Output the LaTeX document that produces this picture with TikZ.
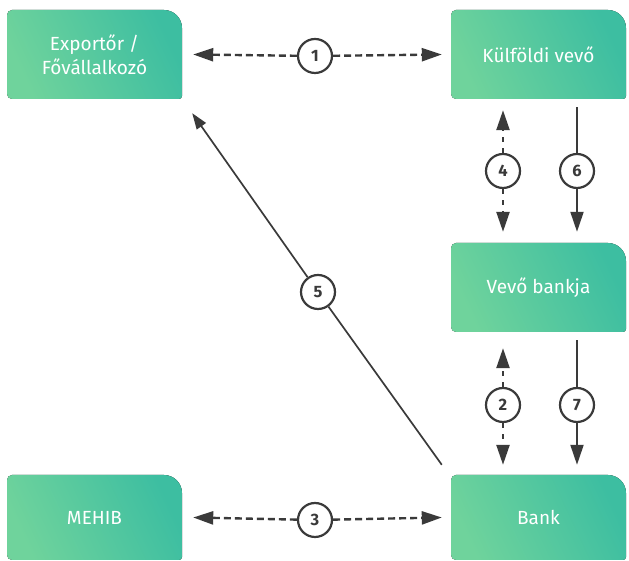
\documentclass[tikz,border=0pt]{standalone}
\usepackage{fontspec}
\setmainfont{Fira Sans}
\usetikzlibrary{arrows.meta}

\definecolor{grLight}{HTML}{6FD39C}
\definecolor{grDark}{HTML}{3DBEA1}
\definecolor{lineGray}{HTML}{3A3A3A}

\tikzset{
	partner/.style={rectangle, minimum width=175pt, minimum height=89pt, inner sep=0pt,
		text=white, align=center, font=\fontsize{19}{24}\selectfont,
		path picture={
			\fill[left color=grLight, right color=grDark, shading angle=115]
			([yshift=5pt]path picture bounding box.south west)
			-- ([yshift=-5pt]path picture bounding box.north west)
			arc[start angle=180, end angle=90, radius=5pt]
			-- ([xshift=-18pt]path picture bounding box.north east)
			arc[start angle=90, end angle=0, radius=18pt]
			-- ([yshift=3pt]path picture bounding box.south east)
			arc[start angle=0, end angle=-90, radius=3pt]
			-- ([xshift=5pt]path picture bounding box.south west)
			arc[start angle=270, end angle=180, radius=5pt] -- cycle;
		}},
	stepnum/.style={circle, draw=lineGray, line width=2.2pt, fill=white, minimum size=34pt,
		inner sep=0pt, text=lineGray, font=\bfseries\fontsize{16.5}{16.5}\selectfont},
	flowline/.style={draw=lineGray, line width=2pt},
	hdash/.style={flowline, line width=2.4pt, dash pattern=on 7pt off 4pt},
	vdash/.style={flowline, line width=2.4pt, dash pattern=on 5pt off 6pt},
	bigtip/.tip={Triangle[length=20pt, width=13pt]},
	smalltip/.tip={Triangle[length=16pt, width=11pt]},
}

\begin{document}
\begin{tikzpicture}[x=1pt, y=1pt]
	%%%%% START %%%%%
	\useasboundingbox (0,0) rectangle (629,561);
	
	\node[partner] (exporter) at (94.5, 506.5) {Exportőr /\\Fővállalkozó};
	\node[partner] (buyer) at (538.5, 506.5) {Külföldi vevő};
	\node[partner] (buyerbank) at (538.5, 273.5) {Vevő bankja};
	\node[partner, minimum height=85pt] (bank) at (538.5, 43.5) {Bank};
	\node[partner, minimum height=85pt] (mehib) at (94.5, 43.5) {MEHIB};
	
	\node[stepnum] (s1) at (315, 505) {1};
	\node[stepnum] (s2) at (503, 156) {2};
	\node[stepnum] (s3) at (315, 41) {3};
	\node[stepnum] (s4) at (503, 390) {4};
	\node[stepnum] (s5) at (318, 269) {5};
	\node[stepnum] (s6) at (577, 390) {6};
	\node[stepnum] (s7) at (577, 156) {7};
	
	% dashed two-way flows
	\draw[hdash, -bigtip] (s1) -- ([xshift=11pt]exporter.east);
	\draw[hdash, -bigtip] (s1) -- ([xshift=-9pt]buyer.west);
	\draw[hdash, -bigtip] (s3) -- ([xshift=11pt]mehib.east);
	\draw[hdash, -bigtip] (s3) -- ([xshift=-9pt]bank.west);
	\draw[vdash, -bigtip] (s4) -- ([shift={(-35.5pt,-11pt)}]buyer.south);
	\draw[vdash, -bigtip] (s4) -- ([shift={(-35.5pt,11pt)}]buyerbank.north);
	\draw[vdash, -bigtip] (s2) -- ([shift={(-35.5pt,-16pt)}]buyerbank.south);
	\draw[vdash, -bigtip] (s2) -- ([shift={(-35.5pt,10pt)}]bank.north);
	
	% solid one-way flows
	\draw[flowline] ([shift={(38.5pt,-8pt)}]buyer.south) -- (s6);
	\draw[flowline, -bigtip] (s6) -- ([shift={(38.5pt,11pt)}]buyerbank.north);
	\draw[flowline] ([shift={(38.5pt,-8pt)}]buyerbank.south) -- (s7);
	\draw[flowline, -bigtip] (s7) -- ([shift={(38.5pt,10pt)}]bank.north);
	\draw[flowline, line width=1.7pt] ([shift={(-9pt,10pt)}]bank.north west) -- (s5);
	\draw[flowline, line width=1.7pt, -smalltip] (s5) -- ([shift={(10pt,-14pt)}]exporter.south east);
	%%%%% END %%%%%
\end{tikzpicture}
\end{document}
